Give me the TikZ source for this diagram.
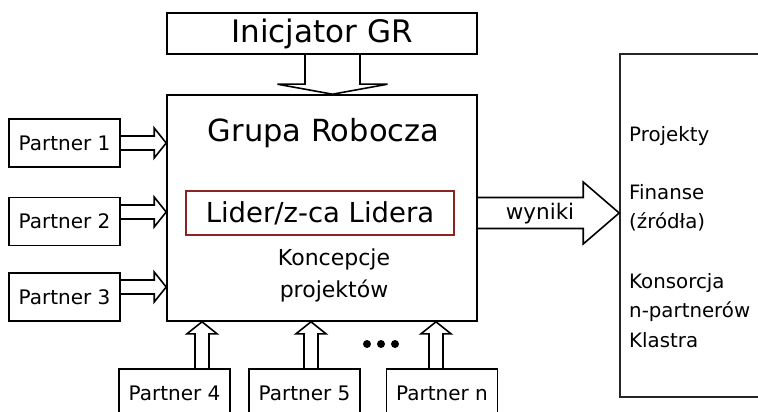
\documentclass[tikz,border=0pt]{standalone}
\usepackage{fontspec}
\setmainfont{DejaVu Sans}
\usetikzlibrary{calc}
\definecolor{LiderRed}{HTML}{8B2323}

\begin{document}
\begin{tikzpicture}[x=1pt, y=-1pt,
    box/.style={draw, line width=1.6pt, inner sep=0pt},
    partner/.style={box, minimum width=111pt, minimum height=48pt, font=\fontsize{20}{23}\selectfont},
    big/.style={font=\fontsize{30.5}{34}\selectfont, inner sep=0pt},
    txt/.style={font=\fontsize{19.8}{23}\selectfont, inner sep=0pt},
    % hollow block arrow: shaft half width / head half width / head length
    fat/.style n args={3}{line width=1.6pt, line join=miter, to path={
        let \p1=($(\tikztotarget)!#3!(\tikztostart)$) in
        ($(\tikztostart)!#1!90:(\tikztotarget)$) -- ($(\p1)!#1!90:(\tikztotarget)$)
        -- ($(\p1)!#2!90:(\tikztotarget)$) -- (\tikztotarget)
        -- ($(\p1)!#2!-90:(\tikztotarget)$) -- ($(\p1)!#1!-90:(\tikztotarget)$)
        -- ($(\tikztostart)!#1!-90:(\tikztotarget)$)}},
    small/.style={fat={7pt}{15pt}{12pt}}
]
\useasboundingbox (0,0) rectangle (758,412);
\clip (0,0) rectangle (758,412);

% Top and centre
\node[box, minimum width=310pt, minimum height=41pt, font=\fontsize{31}{34}\selectfont] (init) at (322,33.5) {Inicjator GR};
\node[box, minimum width=310pt, minimum height=226pt] (grupa) at (322,208) {};
\node[big] (tytul) at (323.5,133) {Grupa Robocza};
\node[draw=LiderRed, line width=1.3pt, minimum width=268pt, minimum height=44pt, inner sep=0pt,
      font=\fontsize{27.5}{30}\selectfont] (lider) at (320,213) {Lider/z-ca Lidera};
\node[txt, font=\fontsize{22}{32}\selectfont, align=center] (konc) at (334,275) {Koncepcje\\projektów};

% Partners on the left
\node[partner] (p1) at (64.5,143) {Partner 1};
\node[partner] (p2) at (64.5,221.5) {Partner 2};
\node[partner] (p3) at (64.5,297) {Partner 3};

% Partners below
\node[partner] (p4) at (174.5,393) {Partner 4};
\node[partner] (p5) at (304.5,393) {Partner 5};
\node[partner] (pn) at (442,393) {Partner n};
\foreach \x in {367,381,395}
    \fill (\x,344) circle (4pt);

% Results box
\node[box, draw=black!85, minimum width=150pt, minimum height=343pt] (wyn) at (695,225.5) {};
\node[txt, anchor=west] (proj) at (629,136) {Projekty};
\node[txt, anchor=west] (fin) at (629,192) {Finanse};
\node[txt, anchor=west] (zrodla) at (629,222) {(źródła)};
\node[txt, anchor=west] (kons) at (629,283) {Konsorcja};
\node[txt, anchor=west] (npart) at (629,312) {n-partnerów};
\node[txt, anchor=west] (klastra) at (629,340) {Klastra};

% Block arrows
\draw[fat={27.5pt}{55pt}{10pt}] ([xshift=10.5pt]init.south) to ([xshift=10.5pt]init.south |- grupa.north);
\draw[small] (p1.east) to (p1.east -| grupa.west);
\draw[small] ([yshift=9.5pt]p2.east) to ([yshift=9.5pt]p2.east -| grupa.west);
\draw[small] ([yshift=10pt]p3.east) to ([yshift=10pt]p3.east -| grupa.west);
\draw[small] ([xshift=27.5pt]p4.north) to ([xshift=27.5pt]p4.north |- grupa.south);
\draw[small] ([xshift=6.5pt]p5.north) to ([xshift=6.5pt]p5.north |- grupa.south);
\draw[small] ([xshift=-6pt]pn.north) to ([xshift=-6pt]pn.north |- grupa.south);
\draw[fat={15.5pt}{31pt}{36pt}] (grupa.east |- lider.center) to (wyn.west |- lider.center);
\node[txt, font=\fontsize{21.5}{24}\selectfont] (wyniki) at (540,214) {wyniki};
\end{tikzpicture}
\end{document}
